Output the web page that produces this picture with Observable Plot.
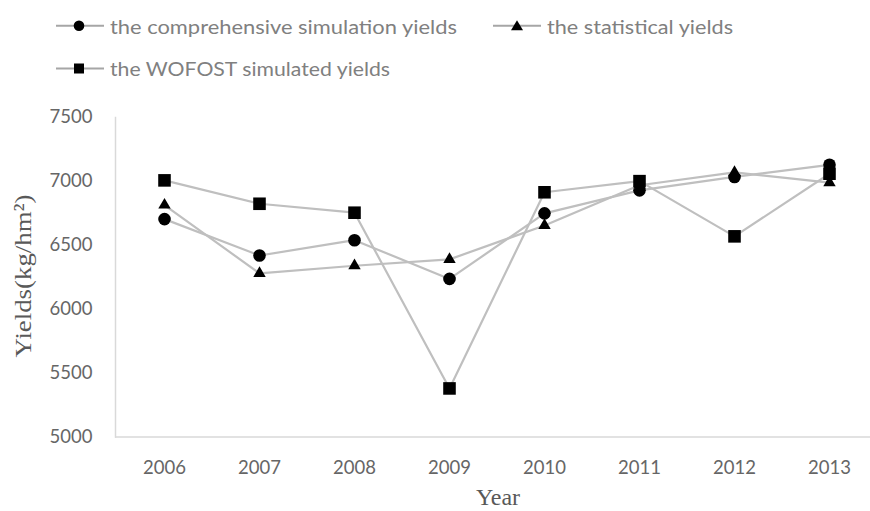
<!DOCTYPE html>
<html>
<head>
<meta charset="utf-8">
<script src="https://cdn.jsdelivr.net/npm/d3@7"></script>
<script src="https://cdn.jsdelivr.net/npm/@observablehq/plot@0.6"></script>
<style>
  html, body { margin: 0; padding: 0; background: #fff; }
  #wrap { width: 870px; height: 511px; overflow: hidden; }
  #legend svg, #chart svg { display: block; }
</style>
</head>
<body>
<div id="wrap">
  <div id="legend"></div>
  <div id="chart"></div>
</div>
<script>
// ---- Data ----
const years = ["2006", "2007", "2008", "2009", "2010", "2011", "2012", "2013"];
const comprehensive = [6705, 6420, 6540, 6237, 6750, 6930, 7035, 7130];
const statistical   = [6815, 6280, 6340, 6390, 6655, 6970, 7070, 6990];
const wofost        = [7008, 6825, 6755, 5380, 6915, 7002, 6570, 7060];
const yTicks = [5000, 5500, 6000, 6500, 7000, 7500];
const seriesNames = [
  "the comprehensive simulation yields",
  "the statistical yields",
  "the WOFOST simulated yields"
];

const toRows = (vals, name) => years.map((y, i) => ({year: y, value: vals[i], series: name}));
const rowsC = toRows(comprehensive, seriesNames[0]);
const rowsS = toRows(statistical, seriesNames[1]);
const rowsW = toRows(wofost, seriesNames[2]);

// ---- Legend (above the plot) ----
const lg = d3.select("#legend").append("svg")
  .attr("width", 870).attr("height", 95);
const legendItems = [
  {name: seriesNames[0], lx: 56, mx: 79, tx: 110, ty: 34, my: 25.7, tl: 347, shape: "circle"},
  {name: seriesNames[1], lx: 493, mx: 517, tx: 547, ty: 34, my: 25.7, tl: 186, shape: "triangle"},
  {name: seriesNames[2], lx: 56, mx: 79, tx: 110, ty: 76, my: 68.5, tl: 280, shape: "square"}
];
legendItems.forEach(it => {
  const g = lg.append("g");
  g.append("line").attr("x1", it.lx).attr("x2", it.lx + 48)
    .attr("y1", it.my).attr("y2", it.my)
    .attr("stroke", "#a6a6a6").attr("stroke-width", 2);
  if (it.shape === "circle") {
    g.append("circle").attr("cx", it.mx).attr("cy", it.my).attr("r", 5.3).attr("fill", "#000");
  } else if (it.shape === "triangle") {
    g.append("path").attr("d", `M${it.mx},${it.my - 5.5}L${it.mx + 6},${it.my + 4.5}L${it.mx - 6},${it.my + 4.5}Z`).attr("fill", "#000");
  } else {
    g.append("rect").attr("x", it.mx - 5).attr("y", it.my - 5).attr("width", 10).attr("height", 10).attr("fill", "#000");
  }
  const t = g.append("text").attr("x", it.tx).attr("y", it.ty)
    .attr("font-family", "Lato, 'Open Sans', sans-serif")
    .attr("font-size", 19.5).attr("fill", "#808080")
    .text(it.name);
  const nat = t.node().getComputedTextLength();
  if (nat > 0 && Math.abs(nat - it.tl) > 1) {
    t.attr("textLength", it.tl).attr("lengthAdjust", "spacingAndGlyphs");
  }
});

// ---- Plot ----
const chart = Plot.plot({
  width: 870,
  height: 416,
  marginLeft: 115,
  marginRight: 0,
  marginTop: 22,
  marginBottom: 74.5,
  style: {fontFamily: "Lato, 'DejaVu Sans', sans-serif", fontSize: "18.5px", color: "#666", background: "#fff"},
  x: {type: "point", domain: years, range: [162.5, 831], padding: 0, label: null},
  y: {domain: [5000, 7500], label: null},
  marks: [
    Plot.axisX({tickSize: 0, tickPadding: 24, label: null}),
    Plot.axisY({ticks: yTicks, tickSize: 0, tickPadding: 23, label: null, tickFormat: d3.format("d")}),
    Plot.frame({anchor: "left", stroke: "#d9d9d9", strokeWidth: 1.5}),
    Plot.ruleY([5000], {stroke: "#d9d9d9", strokeWidth: 1.5}),
    Plot.line(rowsC, {x: "year", y: "value", stroke: "#bfbfbf", strokeWidth: 2.2}),
    Plot.dot(rowsC, {x: "year", y: "value", symbol: "circle", r: 6.3, fill: "#000", stroke: "none"}),
    Plot.line(rowsS, {x: "year", y: "value", stroke: "#bfbfbf", strokeWidth: 2.2}),
    Plot.dot(rowsS, {x: "year", y: "value", symbol: "triangle", r: 4.6, fill: "#000", stroke: "none"}),
    Plot.line(rowsW, {x: "year", y: "value", stroke: "#bfbfbf", strokeWidth: 2.2}),
    Plot.dot(rowsW, {x: "year", y: "value", symbol: "square", r: 7.1, fill: "#000", stroke: "none"})
  ]
});
document.getElementById("chart").appendChild(chart);

// Axis titles
const svg = d3.select(chart);
svg.append("text")
  .attr("transform", "translate(31,181) rotate(-90)")
  .attr("text-anchor", "middle")
  .attr("font-family", "'Liberation Serif', 'Times New Roman', serif")
  .attr("font-size", 24).attr("fill", "#595959")
  .attr("textLength", 163).attr("lengthAdjust", "spacingAndGlyphs")
  .text("Yields(kg/hm²)");
svg.append("text")
  .attr("x", 498).attr("y", 410)
  .attr("text-anchor", "middle")
  .attr("font-family", "'Liberation Serif', 'Times New Roman', serif")
  .attr("font-size", 24).attr("fill", "#595959")
  .text("Year");
</script>
</body>
</html>
